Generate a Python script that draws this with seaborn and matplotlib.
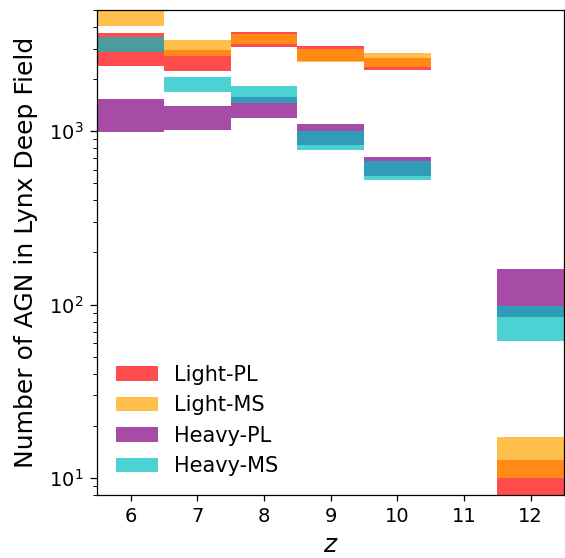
import numpy as np
import matplotlib
matplotlib.use('Agg')
import matplotlib.pyplot as plt
import seaborn as sns

# redshift bins (z = 11 has no sources)
z = [6, 7, 8, 9, 10, 11, 12]

# lower / upper number of AGN for each seed model
light_pl_lo = [2380, 2230, 3070, 2550, 2255, np.nan, 6.5]
light_pl_hi = [3670, 2940, 3720, 3110, 2655, np.nan, 12.8]
light_ms_lo = [4060, 2730, 3200, 2510, 2355, np.nan, 10.0]
light_ms_hi = [5300, 3360, 3660, 2970, 2810, np.nan, 17.3]
heavy_pl_lo = [985, 1020, 1190, 836, 549, np.nan, 85.5]
heavy_pl_hi = [1540, 1390, 1585, 1100, 707, np.nan, 161]
heavy_ms_lo = [2880, 1690, 1450, 783, 526, np.nan, 62]
heavy_ms_hi = [3475, 2065, 1825, 1007, 677, np.nan, 98.4]

models = ['Light-PL', 'Light-MS', 'Heavy-PL', 'Heavy-MS']
colors = ['#ff0000', '#ffa500', '#800080', '#00bfbf']
lows = [light_pl_lo, light_ms_lo, heavy_pl_lo, heavy_ms_lo]
highs = [light_pl_hi, light_ms_hi, heavy_pl_hi, heavy_ms_hi]

sns.set_theme(style='ticks', rc={
    'axes.edgecolor': 'black', 'axes.labelcolor': 'black', 'text.color': 'black',
    'xtick.color': 'black', 'ytick.color': 'black',
    'xtick.major.size': 4.5, 'ytick.major.size': 5,
    'ytick.minor.size': 3, 'xtick.major.width': 0.9, 'ytick.major.width': 0.9,
    'ytick.minor.width': 0.7, 'axes.linewidth': 0.9,
    'xtick.major.pad': 4.5, 'ytick.major.pad': 5,
})
plt.rcParams['font.family'] = ['DejaVu Sans']

fig, ax = plt.subplots(figsize=(5.65, 5.58), dpi=100)
fig.subplots_adjust(left=0.172, right=0.998, top=0.982, bottom=0.113)

for name, col, lo, hi in zip(models, colors, lows, highs):
    lo = np.array(lo)
    hi = np.array(hi)
    ax.bar(z, hi - lo, bottom=lo, width=1.0, color=col, alpha=0.7,
           linewidth=0, label=name)

ax.set_yscale('log')
ax.set_xlim(5.5, 12.5)
ax.set_ylim(8, 5000)
ax.set_xticks(z)
ax.tick_params(labelsize=14)
ax.set_xlabel('$z$', fontsize=18, labelpad=5)
ax.set_ylabel('Number of AGN in Lynx Deep Field', fontsize=18, labelpad=8)
ax.legend(loc='lower left', frameon=False, fontsize=15)

plt.savefig('out.png', dpi=100)
